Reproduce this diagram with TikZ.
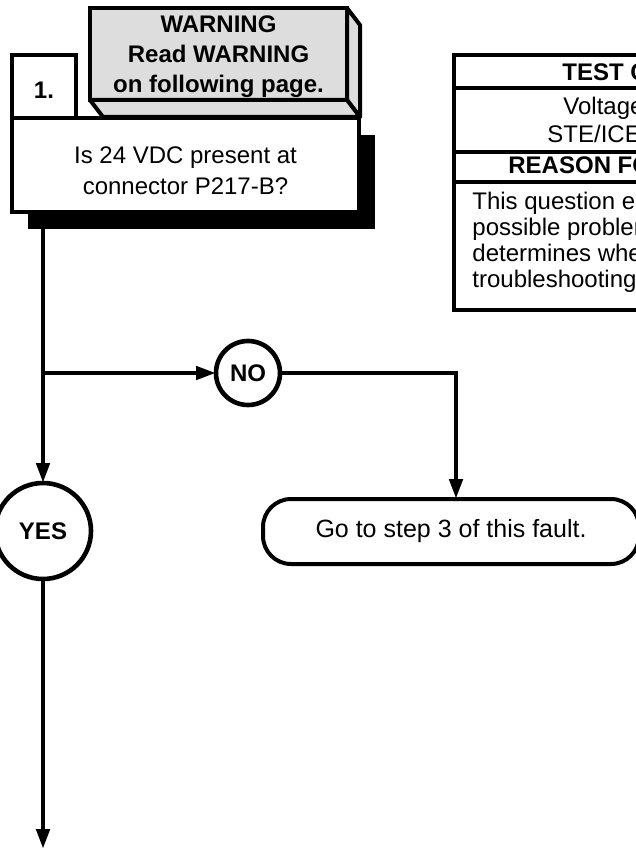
\documentclass[tikz,border=0pt]{standalone}
\usepackage{fontspec}
\setmainfont{Liberation Sans}
\usepackage{xcolor}
\definecolor{WarnGray}{HTML}{DDDDDD}
\usepackage{tikz}
\usetikzlibrary{arrows.meta,positioning,shadows}

\begin{document}
\begin{tikzpicture}[x=0.5pt, y=-0.5pt, every node/.style={font=\fontsize{12}{15.5}\selectfont}]
\tikzset{box/.style={draw, line width=2pt, fill=white, outer sep=0pt, align=center}}
\tikzset{boxtext/.style={align=center, inner sep=0pt}}
\tikzset{answer/.style={draw, circle, line width=2.3pt, fill=white, outer sep=0pt, inner sep=0pt, font=\fontsize{12}{14}\selectfont\bfseries}}
\tikzset{face/.style={draw, fill=WarnGray, line width=2pt, line join=round}}
\tikzset{arrow/.style={-{Triangle[length=10pt, width=6.5pt]}, line width=2.3pt}}
\tikzset{line/.style={line width=2.3pt}}
\tikzset{cell/.style={anchor=west, inner sep=0pt}}
\useasboundingbox (0,0) rectangle (636,850);
\clip (0,0) rectangle (636,850);
\node[box, minimum width=173.5pt, minimum height=47pt, drop shadow={shadow xshift=8pt, shadow yshift=-8.5pt, fill=black, opacity=1}] (question) at (185.5,165) {};
\node[boxtext] (questiontext) at ([yshift=-3pt]question.center) {Is 24 VDC present at\\connector P217-B?};
\node[box, minimum width=32pt, minimum height=31.5pt] (stepno) at (44,86.5) {};
\node[boxtext, font=\fontsize{12}{14}\selectfont\bfseries] (stepnotext) at ([yshift=-2pt]stepno.center) {1.};
\node[box, fill=WarnGray, minimum width=128.5pt, minimum height=46pt] (warning) at (218.5,54) {};
\filldraw[face] (warning.north east) -- ++(13,17) -- ++(0,92) -- (warning.south east) -- cycle;
\filldraw[face] (warning.south west) -- ++(13,17) -- ++(257,0) -- (warning.south east) -- cycle;
\node[boxtext, font=\fontsize{12}{15}\selectfont\bfseries] (warningtext) at ([yshift=-1.5pt]warning.center) {WARNING\\Read WARNING\\on following page.};
\draw[line width=2pt] (454,55) rectangle (700,310);
\draw[line width=2pt] (454,88) -- (700,88) (454,152) -- (700,152) (454,182) -- (700,182);
\node[cell, font=\fontsize{12}{14}\selectfont\bfseries] (testhead) at (562,72) {TEST CONDITIONS};
\node[cell] (testline) at (563,108) {Voltage};
\node[cell] (testtool) at (547,134) {STE/ICE-R};
\node[cell, font=\fontsize{12}{14}\selectfont\bfseries] (reasonhead) at (508,167) {REASON FOR QUESTION};
\node[cell, align=left, font=\fontsize{12}{13}\selectfont] (reason) at (472,242.5) {This question eliminates\\possible problem\\determines whether\\troubleshooting};
\coordinate (split) at (43,373);
\coordinate (nobend) at (456,373);
\coordinate (end) at (43,849);
\node[answer, minimum size=32pt] (no) at (248,373) {NO};
\node[answer, minimum size=48pt] (yes) at (43,531) {YES};
\node[box, rounded corners=14pt, minimum width=188pt, minimum height=32.5pt, font=\fontsize{12.5}{15}\selectfont] (goto) at (451,531.5) {Go to step 3 of this fault.};
\draw[line] (question.south -| split) -- (split);
\draw[arrow] (split) -- (no);
\draw[arrow] (split) -- (yes);
\draw[arrow] (no) -- (nobend) -- (goto.north -| nobend);
\draw[arrow] (yes) -- (end);
\end{tikzpicture}
\end{document}
